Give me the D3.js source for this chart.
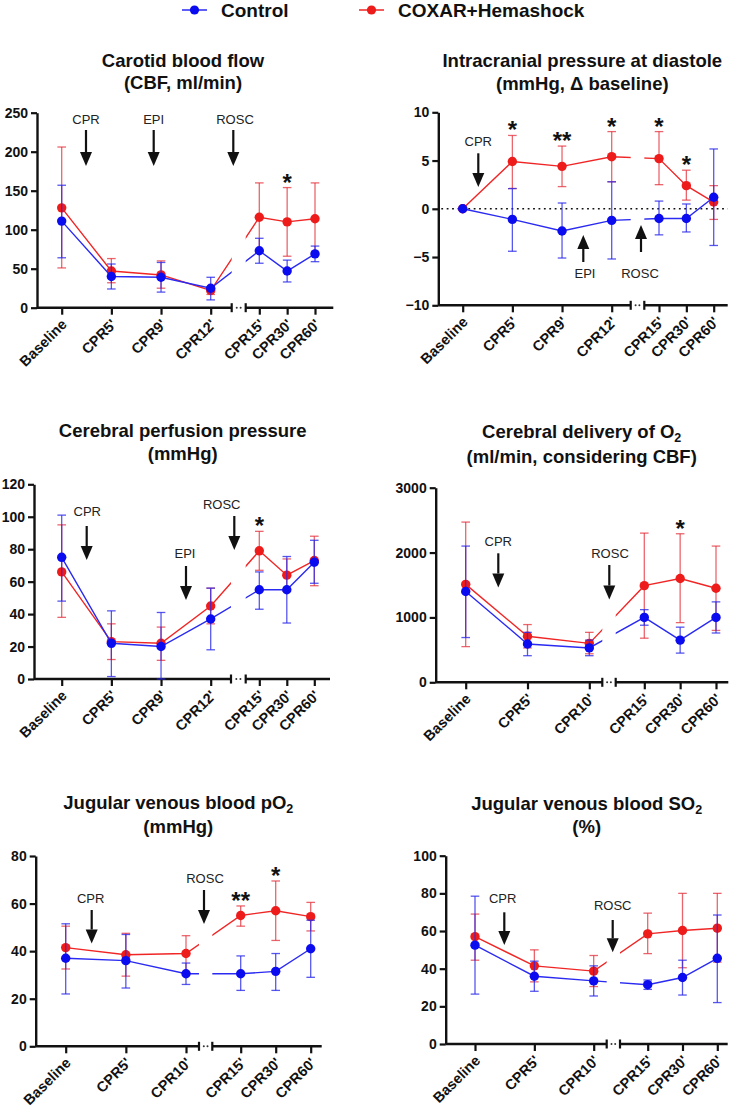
<!DOCTYPE html>
<html><head><meta charset="utf-8">
<script src="https://cdn.jsdelivr.net/npm/d3@7"></script>
<style>
body{margin:0;background:#fff}
svg{display:block}
text{font-family:"Liberation Sans",Arial,Helvetica,sans-serif}
</style>
</head><body>
<svg id="chart" width="731" height="1112"></svg>
<script>
// ---------------- DATA ----------------
const seriesNames = ["Control", "COXAR+Hemashock"];
const catsA = ["Baseline", "CPR5'", "CPR9'", "CPR12'", "CPR15'", "CPR30'", "CPR60'"];
const catsB = ["Baseline", "CPR5'", "CPR10'", "CPR15'", "CPR30'", "CPR60'"];

// Carotid blood flow
const cbfTicks = [0, 50, 100, 150, 200, 250];
const cbfCtrl = [111, 40, 39, 25, 73, 47, 69];
const cbfCtrlLo = [64, 24, 20, 10, 57, 33, 59];
const cbfCtrlHi = [157, 56, 58, 39, 89, 61, 79];
const cbfCox = [128, 47, 42, 22, 116, 110, 114];
const cbfCoxLo = [51, 32, 25, 17, 72, 66, 69];
const cbfCoxHi = [206, 63, 60, 27, 160, 154, 160];
const cbfSig = ["", "", "", "", "", "*", ""];

// Intracranial pressure at diastole
const icpTicks = [-10, -5, 0, 5, 10];
const icpCtrl = [0, -1.1, -2.3, -1.2, -1.0, -1.0, 1.2];
const icpCtrlLo = [0, -4.4, -5.1, -5.2, -2.7, -2.4, -3.8];
const icpCtrlHi = [0, 2.1, 0.6, 2.8, 0.8, 0.5, 6.2];
const icpCox = [0, 4.9, 4.4, 5.4, 5.2, 2.4, 0.7];
const icpCoxLo = [0, 2.1, 2.3, 2.8, 2.5, 0.9, -1.1];
const icpCoxHi = [0, 7.6, 6.5, 8.0, 8.0, 4.0, 2.4];
const icpSig = ["", "*", "**", "*", "*", "*", ""];

// Cerebral perfusion pressure
const cppTicks = [0, 20, 40, 60, 80, 100, 120];
const cppCtrl = [75, 22, 20, 37, 55, 55, 72];
const cppCtrlLo = [48, 1.5, 0, 18, 43, 34.5, 59];
const cppCtrlHi = [101, 42, 41, 56, 66, 75.5, 85.5];
const cppCox = [66, 23, 22, 45, 79, 64, 73];
const cppCoxLo = [38, 12, 11.5, 34, 67, 54, 57.5];
const cppCoxHi = [95, 34, 32, 56, 91, 74, 88];
const cppSig = ["", "", "", "", "*", "", ""];

// Cerebral delivery of O2
const do2Ticks = [0, 1000, 2000, 3000];
const do2Ctrl = [1400, 590, 530, 1000, 650, 1000];
const do2CtrlLo = [690, 410, 410, 880, 450, 760];
const do2CtrlHi = [2100, 770, 650, 1120, 850, 1240];
const do2Cox = [1510, 710, 600, 1490, 1600, 1450];
const do2CoxLo = [550, 530, 440, 680, 920, 800];
const do2CoxHi = [2470, 890, 770, 2300, 2290, 2100];
const do2Sig = ["", "", "", "", "*", ""];

// Jugular venous blood pO2
const po2Ticks = [0, 20, 40, 60, 80];
const po2Ctrl = [37, 36, 30.5, 30.5, 31.5, 41];
const po2CtrlLo = [22, 24.5, 26, 23.5, 23.5, 29];
const po2CtrlHi = [51.5, 47, 35, 38, 39, 53];
const po2Cox = [41.5, 38.5, 39, 55, 57, 54.5];
const po2CoxLo = [32.5, 29.5, 31, 50.5, 44.5, 48.5];
const po2CoxHi = [50.5, 47.5, 46.5, 59, 69.5, 60.5];
const po2Sig = ["", "", "", "**", "*", ""];

// Jugular venous blood SO2
const so2Ticks = [0, 20, 40, 60, 80, 100];
const so2Ctrl = [52.5, 36, 33.5, 31.5, 35.3, 45.5];
const so2CtrlLo = [26.5, 28, 25.5, 29, 26, 22];
const so2CtrlHi = [78.5, 44, 41.5, 34, 44.5, 68.5];
const so2Cox = [57, 41.5, 38.7, 58.5, 60.3, 61.5];
const so2CoxLo = [44.5, 33, 30.5, 48, 40.5, 43.5];
const so2CoxHi = [69, 50, 47, 69.5, 80, 80];
const so2Sig = ["", "", "", "", "", ""];

// ---------------- STYLE ----------------
const COL = {
  ctrl: {pt: "#0b0bf0", line: "#2a2af2", err: "rgba(40,40,235,0.78)"},
  cox: {pt: "#ee1b1b", line: "#f02626", err: "rgba(228,50,60,0.75)"}
};
const svg = d3.select("#chart");
const FONT = '"Liberation Sans",Arial,Helvetica,sans-serif';

// ---------------- LEGEND ----------------
const legendItems = [
  {name: seriesNames[0], c: COL.ctrl, x0: 182, x1: 207, tx: 221},
  {name: seriesNames[1], c: COL.cox, x0: 359, x1: 384, tx: 398}
];
legendItems.forEach(d => {
  const g = svg.append("g");
  g.append("line").attr("x1", d.x0).attr("x2", d.x1).attr("y1", 10).attr("y2", 10)
    .attr("stroke", d.c.line).attr("stroke-width", 1.5);
  g.append("circle").attr("cx", (d.x0 + d.x1) / 2).attr("cy", 10).attr("r", 4.6).attr("fill", d.c.pt);
  g.append("text").attr("x", d.tx).attr("y", 17).attr("font-size", 19).attr("font-weight", "bold")
    .attr("fill", "#111").text(d.name);
});

// ---------------- PANELS ----------------
let clipId = 0;
function drawPanel(p) {
  const g = svg.append("g");
  const y = d3.scaleLinear().domain([p.yTicks[0], p.yTicks[p.yTicks.length - 1]]).range([p.yBottom, p.yTop]);
  const catsL = p.cats.slice(0, p.nLeft), catsR = p.cats.slice(p.nLeft);
  const xL = d3.scalePoint().domain(catsL).range(p.leftTicks);
  const xR = d3.scalePoint().domain(catsR).range(p.rightTicks);
  const x = c => catsL.includes(c) ? xL(c) : xR(c);
  const axisY = p.yBottom;

  // title
  const t = g.append("text").attr("text-anchor", "middle").attr("font-size", 18.5)
    .attr("font-weight", "bold").attr("fill", "#111");
  p.title.forEach((line, i) => {
    const ts = t.append("tspan").attr("x", p.titleX).attr("y", p.titleY[i] + 6.5);
    line.forEach(part => {
      if (typeof part === "string") ts.append("tspan").text(part);
      else ts.append("tspan").attr("font-size", 12.5).attr("dy", 4).text(part.sub);
    });
  });

  // zero reference line
  if (p.zeroLine) {
    g.append("line").attr("x1", p.yAxisX + 3).attr("x2", p.rightAxis[1]).attr("y1", y(0)).attr("y2", y(0))
      .attr("stroke", "#111").attr("stroke-width", 1.6).attr("stroke-dasharray", "1.8,3.6");
  }

  // y axis
  const ya = g.append("g").attr("transform", `translate(${p.yAxisX},0)`)
    .call(d3.axisLeft(y).tickValues(p.yTicks).tickFormat(d3.format("d")).tickSize(6).tickSizeOuter(0).tickPadding(3));
  ya.select(".domain").attr("stroke", "#111").attr("stroke-width", 2.4);
  ya.selectAll(".tick line").attr("stroke", "#111").attr("stroke-width", 2.2);
  ya.selectAll(".tick text").attr("font-family", FONT).attr("font-size", 14).attr("font-weight", "bold").attr("fill", "#111");

  // x axis (two segments)
  [[xL, p.leftAxis], [xR, p.rightAxis]].forEach(([sc, ext]) => {
    const xa = g.append("g").attr("transform", `translate(0,${axisY})`)
      .call(d3.axisBottom(sc).tickSize(7).tickSizeOuter(0));
    xa.select(".domain").remove();
    xa.append("line").attr("x1", ext[0]).attr("x2", ext[1]).attr("stroke", "#111").attr("stroke-width", 2.4);
    xa.selectAll(".tick line").attr("stroke", "#111").attr("stroke-width", 2.2);
    xa.selectAll(".tick text").attr("font-family", FONT).attr("font-size", 14.5).attr("font-weight", "bold")
      .attr("fill", "#111").attr("x", 0).attr("y", 0).attr("dy", "0.35em")
      .attr("transform", "translate(2,14) rotate(-45)").style("text-anchor", "end");
  });
  // break marks
  [p.leftAxis[1], p.rightAxis[0]].forEach(bx => {
    g.append("line").attr("x1", bx).attr("x2", bx).attr("y1", axisY - 4.5).attr("y2", axisY + 4.5)
      .attr("stroke", "#111").attr("stroke-width", 2.2);
  });
  const gap = p.rightAxis[0] - p.leftAxis[1];
  [0.36, 0.64].forEach(f => {
    g.append("circle").attr("cx", p.leftAxis[1] + gap * f).attr("cy", axisY).attr("r", 1).attr("fill", "#333");
  });

  // clip path for lines (gap at axis break)
  const cid = "clip" + (clipId++);
  const cp = svg.append("clipPath").attr("id", cid);
  cp.append("rect").attr("x", 0).attr("y", 0).attr("width", p.leftAxis[1]).attr("height", 1112);
  cp.append("rect").attr("x", p.rightAxis[0]).attr("y", 0).attr("width", 800).attr("height", 1112);

  const series = [
    {m: p.cox, lo: p.coxLo, hi: p.coxHi, c: COL.cox},
    {m: p.ctrl, lo: p.ctrlLo, hi: p.ctrlHi, c: COL.ctrl}
  ];
  const line = d3.line().x(d => x(d.c)).y(d => y(d.v));
  series.forEach(s => {
    const pts = p.cats.map((c, i) => ({c, v: s.m[i], lo: s.lo[i], hi: s.hi[i]}));
    const eb = g.append("g").attr("stroke", s.c.err).attr("stroke-width", 1.3).attr("fill", "none");
    pts.filter(d => d.hi !== d.lo).forEach(d => {
      const cx = x(d.c);
      eb.append("line").attr("x1", cx).attr("x2", cx).attr("y1", y(d.lo)).attr("y2", y(d.hi));
      eb.append("line").attr("x1", cx - 4.3).attr("x2", cx + 4.3).attr("y1", y(d.lo)).attr("y2", y(d.lo));
      eb.append("line").attr("x1", cx - 4.3).attr("x2", cx + 4.3).attr("y1", y(d.hi)).attr("y2", y(d.hi));
    });
    g.append("path").datum(pts).attr("d", line).attr("fill", "none").attr("stroke", s.c.line)
      .attr("stroke-width", 1.4).attr("clip-path", `url(#${cid})`);
    g.selectAll(null).data(pts).enter().append("circle")
      .attr("cx", d => x(d.c)).attr("cy", d => y(d.v)).attr("r", 4.7).attr("fill", s.c.pt);
  });

  // significance stars
  p.cats.forEach((c, i) => {
    if (!p.sig[i]) return;
    g.append("text").attr("x", x(c)).attr("y", y(p.coxHi[i]) - 11 + 14).attr("text-anchor", "middle")
      .attr("font-size", 24).attr("font-weight", "bold").attr("fill", "#111").text(p.sig[i]);
  });

  // event arrows
  p.events.forEach(e => {
    g.append("text").attr("x", e.tx).attr("y", e.ty + 4.6).attr("text-anchor", "middle")
      .attr("font-size", 13).attr("fill", "#222").text(e.label);
    const dir = e.to > e.from ? 1 : -1;
    const head = 14;
    g.append("line").attr("x1", e.ax).attr("x2", e.ax).attr("y1", e.from).attr("y2", e.to - dir * head)
      .attr("stroke", "#111").attr("stroke-width", 2.2);
    const pa = d3.path();
    pa.moveTo(e.ax - 6, e.to - dir * head);
    pa.lineTo(e.ax + 6, e.to - dir * head);
    pa.lineTo(e.ax, e.to);
    pa.closePath();
    g.append("path").attr("d", pa.toString()).attr("fill", "#111");
  });
}

const panels = [
  {title: [["Carotid blood flow"], ["(CBF, ml/min)"]], titleX: 183, titleY: [60, 82],
   cats: catsA, nLeft: 4, yTicks: cbfTicks, yTop: 112.7, yBottom: 307.7, yAxisX: 37,
   leftTicks: [61.7, 210.7], rightTicks: [259.3, 315], leftAxis: [37, 231.7], rightAxis: [245.7, 333.3],
   ctrl: cbfCtrl, ctrlLo: cbfCtrlLo, ctrlHi: cbfCtrlHi, cox: cbfCox, coxLo: cbfCoxLo, coxHi: cbfCoxHi, sig: cbfSig,
   events: [
     {label: "CPR", tx: 86, ty: 119.3, ax: 86, from: 130, to: 166},
     {label: "EPI", tx: 153.7, ty: 119.3, ax: 153.7, from: 130, to: 166},
     {label: "ROSC", tx: 235, ty: 119.3, ax: 233.3, from: 130, to: 166}]},
  {title: [["Intracranial pressure at diastole"], ["(mmHg, \u0394 baseline)"]], titleX: 582.3, titleY: [60.7, 83.3],
   cats: catsA, nLeft: 4, yTicks: icpTicks, yTop: 112.3, yBottom: 305.3, yAxisX: 438.3, zeroLine: true,
   leftTicks: [462.7, 611.7], rightTicks: [659, 713.7], leftAxis: [438.3, 630.7], rightAxis: [644.3, 727.7],
   ctrl: icpCtrl, ctrlLo: icpCtrlLo, ctrlHi: icpCtrlHi, cox: icpCox, coxLo: icpCoxLo, coxHi: icpCoxHi, sig: icpSig,
   events: [
     {label: "CPR", tx: 478.3, ty: 141, ax: 478.3, from: 153.3, to: 187},
     {label: "EPI", tx: 585, ty: 273.3, ax: 583.3, from: 262, to: 235},
     {label: "ROSC", tx: 640, ty: 273.3, ax: 641, from: 252, to: 225}]},
  {title: [["Cerebral perfusion pressure"], ["(mmHg)"]], titleX: 182.7, titleY: [430.7, 453.3],
   cats: catsA, nLeft: 4, yTicks: cppTicks, yTop: 484.3, yBottom: 679, yAxisX: 34,
   leftTicks: [61.7, 210.7], rightTicks: [259.3, 314.3], leftAxis: [34, 231], rightAxis: [245.7, 330],
   ctrl: cppCtrl, ctrlLo: cppCtrlLo, ctrlHi: cppCtrlHi, cox: cppCox, coxLo: cppCoxLo, coxHi: cppCoxHi, sig: cppSig,
   events: [
     {label: "CPR", tx: 87.3, ty: 511, ax: 86.7, from: 526, to: 560},
     {label: "EPI", tx: 185, ty: 553.3, ax: 186, from: 566, to: 600},
     {label: "ROSC", tx: 221.7, ty: 504.3, ax: 234.3, from: 516, to: 550}]},
  {title: [["Cerebral delivery of O", {sub: "2"}], ["(ml/min, considering CBF)"]], titleX: 581.7, titleY: [431.7, 456],
   cats: catsB, nLeft: 3, yTicks: do2Ticks, yTop: 487.7, yBottom: 682.3, yAxisX: 435.7,
   leftTicks: [465.7, 589.3], rightTicks: [644.3, 716], leftAxis: [435.7, 602.3], rightAxis: [615.7, 728.3],
   ctrl: do2Ctrl, ctrlLo: do2CtrlLo, ctrlHi: do2CtrlHi, cox: do2Cox, coxLo: do2CoxLo, coxHi: do2CoxHi, sig: do2Sig,
   events: [
     {label: "CPR", tx: 498.3, ty: 541.7, ax: 498.3, from: 553.3, to: 587.5},
     {label: "ROSC", tx: 610, ty: 553.3, ax: 609.3, from: 565, to: 599.5}]},
  {title: [["Jugular venous blood pO", {sub: "2"}], ["(mmHg)"]], titleX: 178.3, titleY: [802.3, 826.7],
   cats: catsB, nLeft: 3, yTicks: po2Ticks, yTop: 856, yBottom: 1046.3, yAxisX: 35.7,
   leftTicks: [65.7, 186], rightTicks: [240.7, 310.7], leftAxis: [35.7, 199], rightAxis: [212.3, 321.7],
   ctrl: po2Ctrl, ctrlLo: po2CtrlLo, ctrlHi: po2CtrlHi, cox: po2Cox, coxLo: po2CoxLo, coxHi: po2CoxHi, sig: po2Sig,
   events: [
     {label: "CPR", tx: 90.7, ty: 898.3, ax: 91.7, from: 910, to: 943.5},
     {label: "ROSC", tx: 205, ty: 878.3, ax: 204, from: 890, to: 924}]},
  {title: [["Jugular venous blood SO", {sub: "2"}], ["(%)"]], titleX: 586.7, titleY: [803, 826.5],
   cats: catsB, nLeft: 3, yTicks: so2Ticks, yTop: 855.7, yBottom: 1044, yAxisX: 445.7,
   leftTicks: [475, 593.7], rightTicks: [647.7, 717.3], leftAxis: [445.7, 606.7], rightAxis: [620, 727.7],
   ctrl: so2Ctrl, ctrlLo: so2CtrlLo, ctrlHi: so2CtrlHi, cox: so2Cox, coxLo: so2CoxLo, coxHi: so2CoxHi, sig: so2Sig,
   events: [
     {label: "CPR", tx: 502.7, ty: 898.3, ax: 504.3, from: 912.3, to: 945},
     {label: "ROSC", tx: 612.7, ty: 905, ax: 612.7, from: 920, to: 952.3}]}
];
panels.forEach(drawPanel);
</script>
</body></html>
